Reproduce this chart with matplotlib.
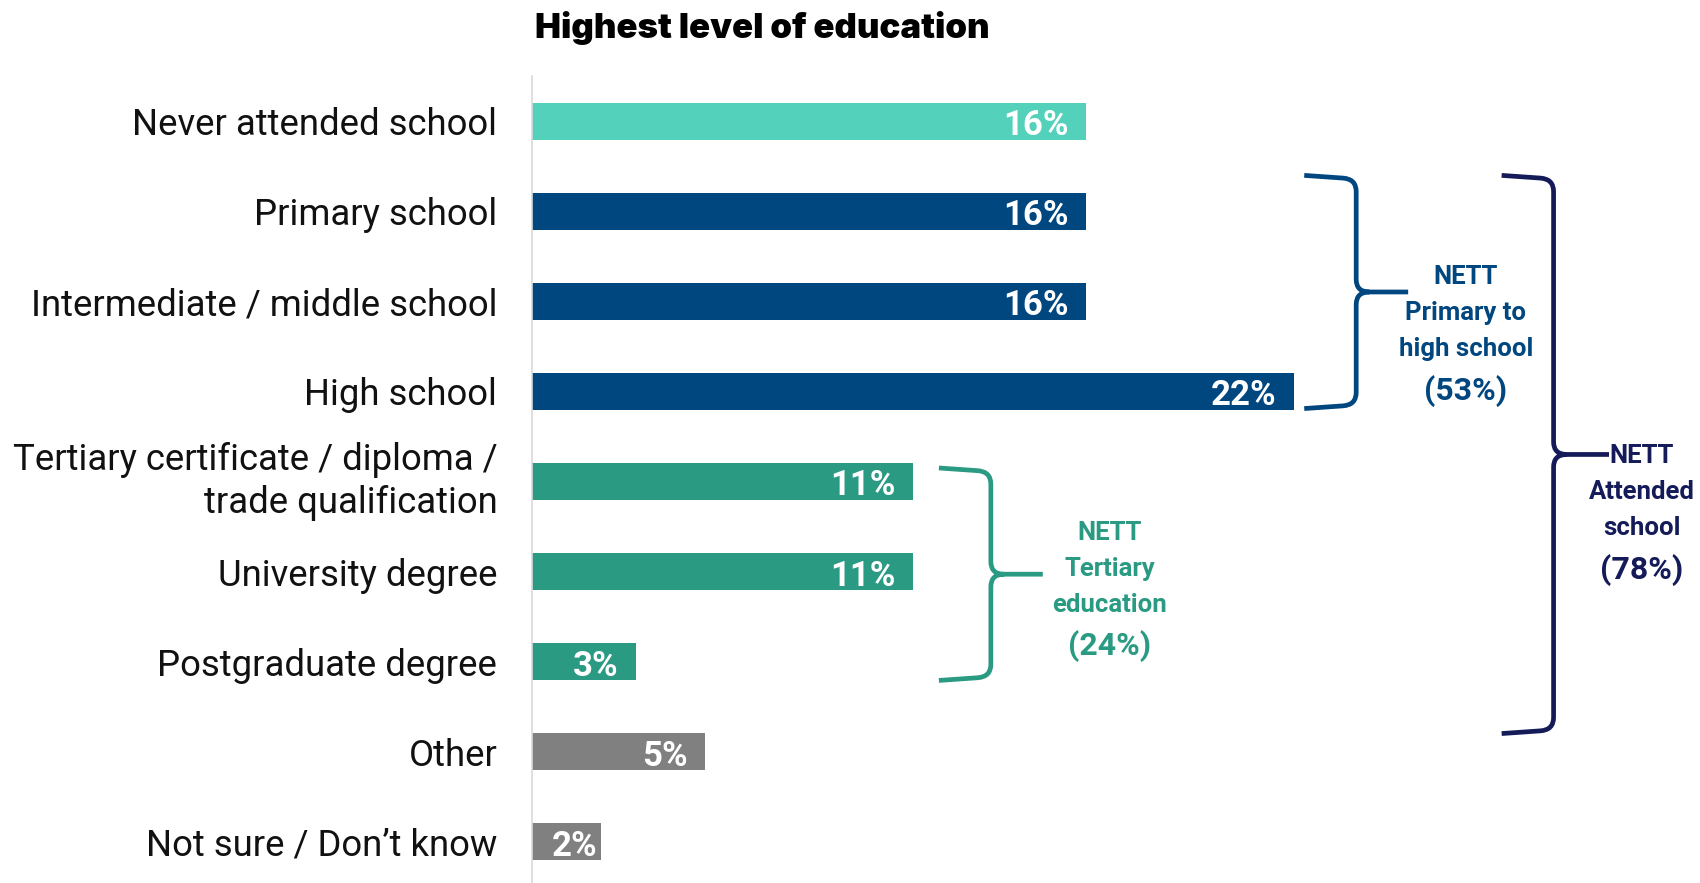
import matplotlib
matplotlib.use("Agg")
import matplotlib.pyplot as plt
from matplotlib.path import Path
from matplotlib.patches import PathPatch
from matplotlib.transforms import ScaledTranslation

# Survey results: highest level of education (% of respondents)
categories = [
    "Never attended school",
    "Primary school",
    "Intermediate / middle school",
    "High school",
    "Tertiary certificate / diploma /\ntrade qualification",
    "University degree",
    "Postgraduate degree",
    "Other",
    "Not sure / Don\u2019t know",
]
values = [16, 16, 16, 22, 11, 11, 3, 5, 2]
groups = ["none", "school", "school", "school", "tertiary", "tertiary", "tertiary", "other", "other"]

# Net groupings shown with braces
nett_titles = ["NETT\nPrimary to\nhigh school", "NETT\nTertiary\neducation", "NETT\nAttended\nschool"]
nett_values = ["(53%)", "(24%)", "(78%)"]

colors = {
    "none": "#54D1BB",
    "school": "#00467F",
    "tertiary": "#2A9A82",
    "other": "#808080",
    "attended": "#151B59",
}

W, H, DPI = 1700, 883, 100
fig = plt.figure(figsize=(W / DPI, H / DPI), dpi=DPI)
ax = fig.add_axes([532 / W, 0, 1168 / W, (H - 76) / H])

ypos = list(range(len(categories)))
ax.barh(ypos, values, height=0.41, color=[colors[g] for g in groups], zorder=2)

ax.set_xlim(0, 1168 / 34.63)
ax.set_ylim(8.46, -0.504)

ax.set_yticks(ypos)
ax.set_yticklabels(categories, fontsize=26.3, family="Roboto", color="#111111",
                   linespacing=1.22)
# Two-line label: centre the block on its bar, nudged slightly down
for lab in ax.get_yticklabels():
    if "\n" in lab.get_text():
        lab.set_verticalalignment("center")
        lab.set_transform(lab.get_transform()
                          + ScaledTranslation(0, -0.035, fig.dpi_scale_trans))
ax.tick_params(axis="y", length=0, pad=25)
ax.set_xticks([])
for s in ["top", "right", "bottom"]:
    ax.spines[s].set_visible(False)
ax.spines["left"].set_color("#D9D9D9")
ax.spines["left"].set_linewidth(1.2)

# Value labels inside bar ends
for y, v in zip(ypos, values):
    pad = 0.5 if v >= 3 else 0.1
    ax.text(v - pad, y + 0.05, f"{v}%", ha="right", va="center", color="white",
            fontsize=25, fontweight="bold", family="Roboto", zorder=3)


def brace(x_left, x_mid, x_tip, y_top, y_bot, color):
    """Right-facing curly brace in data coordinates."""
    rx, ry = 0.38, 0.14
    ym = (y_top + y_bot) / 2
    verts = [
        (x_left, y_top), (x_mid - rx, y_top + 0.03),
        (x_mid, y_top + 0.04), (x_mid, y_top + ry + 0.04),
        (x_mid, ym - ry),
        (x_mid, ym), (x_mid + rx, ym),
        (x_tip, ym),
        (x_mid + rx, ym),
        (x_mid, ym), (x_mid, ym + ry),
        (x_mid, y_bot - ry - 0.04),
        (x_mid, y_bot - 0.04), (x_mid - rx, y_bot - 0.03),
        (x_left, y_bot),
    ]
    codes = [
        Path.MOVETO, Path.LINETO,
        Path.CURVE3, Path.CURVE3,
        Path.LINETO,
        Path.CURVE3, Path.CURVE3,
        Path.LINETO,
        Path.MOVETO,
        Path.CURVE3, Path.CURVE3,
        Path.LINETO,
        Path.CURVE3, Path.CURVE3,
        Path.LINETO,
    ]
    ax.add_patch(PathPatch(Path(verts, codes), fill=False, edgecolor=color,
                           linewidth=3.4, capstyle="butt", joinstyle="round",
                           clip_on=False, zorder=2))


brace_specs = [
    # x_left, x_mid, x_tip, y_top, y_bot, colour, text x, first-line y
    (22.3, 23.8, 25.3, 0.6, 3.19, colors["school"], 26.97, 1.72),
    (11.75, 13.25, 14.75, 3.85, 6.21, colors["tertiary"], 16.69, 4.56),
    (28.0, 29.5, 31.1, 0.6, 6.8, colors["attended"], 32.05, 3.71),
]

for (xl, xm, xt, yt, yb, col, tx, ty), title, val in zip(brace_specs, nett_titles, nett_values):
    brace(xl, xm, xt, yt, yb, col)
    ax.text(tx, ty + 0.41, title, ha="center", va="center", color=col, fontsize=18.5,
            fontweight="bold", family="Roboto", linespacing=1.63, clip_on=False)
    ax.text(tx, ty + 1.27, val, ha="center", va="center", color=col,
            fontsize=23, fontweight="bold", family="Roboto", clip_on=False)

fig.text(762 / W, 1 - 28 / H, "Highest level of education", ha="center", va="center",
         fontsize=25, fontweight="black", family="Inter", color="black")

fig.savefig("out.png", dpi=DPI, facecolor="white")
